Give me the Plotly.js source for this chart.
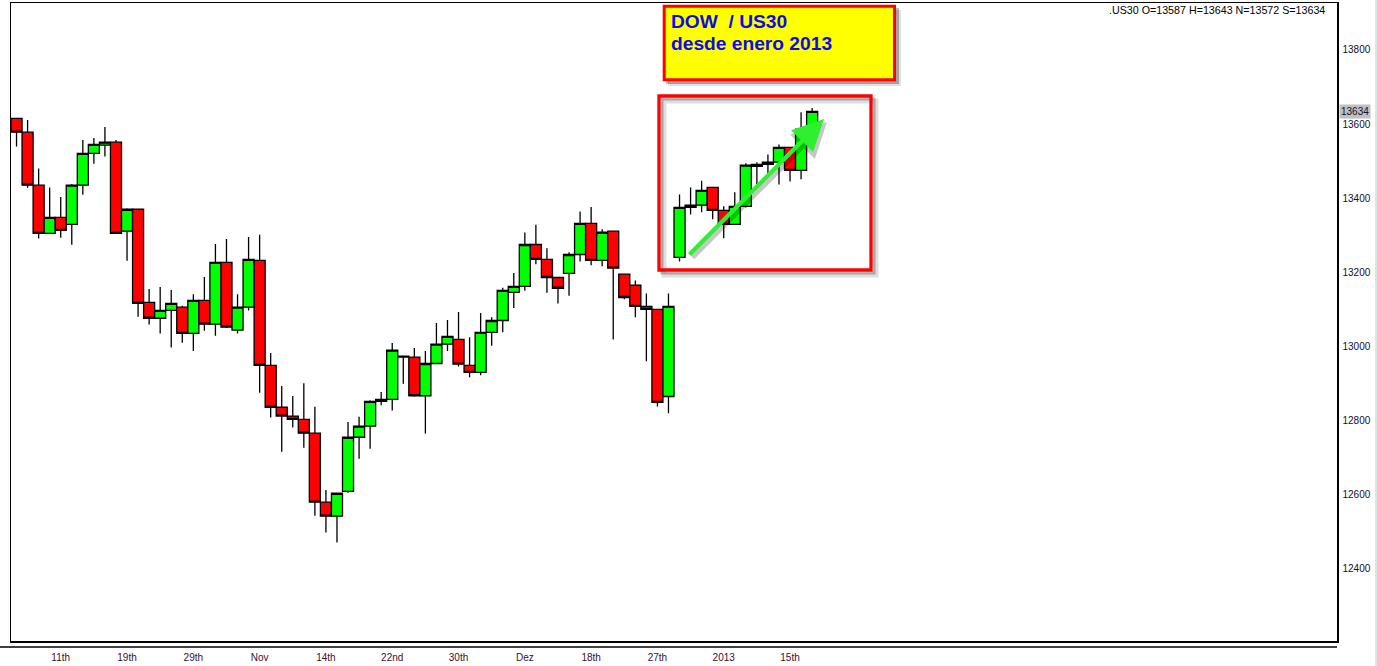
<!DOCTYPE html>
<html>
<head>
<meta charset="utf-8">
<script src="https://cdn.plot.ly/plotly-3.0.1.min.js"></script>
<style>
  html, body { margin: 0; padding: 0; background: #ffffff; }
  #chart { width: 1377px; height: 666px; }
</style>
</head>
<body>
<div id="chart"></div>
<script>
// ---- data (daily bars) ----
const openP  = [13615,13578,13435,13305,13348,13329,13435,13521,13543,13551,13311,13370,13119,13076,13097,13106,13035,13124,13060,13227,13044,13106,13232,12949,12836,12812,12803,12766,12580,12542,12609,12755,12785,12852,12857,12974,12971,12867,12954,13006,13019,12949,12930,13038,13070,13146,13162,13275,13235,13186,13197,13248,13332,13232,13311,13195,13165,13108,13100,12865,13240,13375,13381,13429,13367,13329,13378,13486,13491,13497,13537,13475,13587];
const highP  = [13615,13611,13480,13429,13403,13438,13557,13562,13592,13557,13373,13372,13155,13160,13152,13110,13141,13187,13276,13290,13141,13295,13301,12982,12893,12866,12901,12837,12613,12606,12796,12810,12855,12877,13009,12975,12996,12988,13063,13071,13093,13025,13090,13079,13158,13198,13307,13328,13265,13186,13254,13364,13376,13316,13312,13197,13178,13143,13101,13143,13410,13429,13447,13430,13378,13416,13494,13497,13518,13545,13538,13632,13643];
const lowP   = [13539,13428,13291,13303,13293,13274,13409,13493,13512,13303,13231,13080,13059,13035,12997,13010,12988,13042,13029,13050,13035,13097,12875,12808,12716,12781,12727,12543,12498,12471,12605,12697,12724,12841,12827,12899,12864,12765,12953,12988,12946,12917,12922,13002,13038,13104,13150,13222,13145,13116,13137,13229,13219,13216,13019,13127,13079,12960,12838,12820,13229,13356,13362,13343,13292,13328,13375,13437,13464,13437,13445,13451,13572];
const closeP = [13578,13435,13305,13348,13313,13435,13521,13545,13551,13305,13370,13116,13076,13097,13116,13035,13124,13060,13227,13052,13106,13235,12949,12836,12812,12803,12766,12580,12542,12604,12755,12785,12852,12857,12990,12971,12867,12954,13006,13027,12952,12930,13038,13070,13151,13162,13275,13235,13186,13157,13248,13332,13232,13308,13211,13132,13108,13100,12849,13108,13375,13381,13421,13367,13329,13378,13489,13491,13497,13537,13475,13586,13634];

const tickPos    = [4, 10, 16, 22, 28, 34, 40, 46, 52, 58, 64, 70];
const tickLabels = ['11th','19th','29th','Nov','14th','22nd','30th','Dez','18th','27th','2013','15th'];
const priceTicks = [12400, 12600, 12800, 13000, 13200, 13400, 13600, 13800];

const symbol = '.US30';
const lastO = 13587, lastH = 13643, lastL = 13572, lastC = 13634;

const titleLine1 = 'DOW\u00a0 / US30';
const titleLine2 = 'desde enero 2013';

// ---- geometry helpers (plot area in pixels) ----
const W = 1377, H = 666;
const M = { l: 11, r: 40, t: 3, b: 25 };
const PW = W - M.l - M.r, PH = H - M.t - M.b;
const px = x => (x - M.l) / PW;
const py = y => (H - M.b - y) / PH;

const barIndex = openP.map((_, i) => i);

const trace = {
  type: 'candlestick',
  x: barIndex,
  open: openP, high: highP, low: lowP, close: closeP,
  increasing: { line: { color: '#000000', width: 1.3 }, fillcolor: '#00ff00' },
  decreasing: { line: { color: '#000000', width: 1.3 }, fillcolor: '#ff0000' },
  whiskerwidth: 0,
  showlegend: false,
  hoverinfo: 'skip'
};

const shapes = [
  // second line below plot (time axis panel top)
  { type: 'line', xref: 'paper', yref: 'paper', x0: px(0), x1: px(1337), y0: py(647), y1: py(647),
    line: { color: '#000000', width: 1.5 } },
  // right window edge
  { type: 'line', xref: 'paper', yref: 'paper', x0: px(1376), x1: px(1376), y0: py(0), y1: py(666),
    line: { color: '#dde4ee', width: 2 } },
  // yellow title box shadow
  { type: 'rect', xref: 'paper', yref: 'paper', x0: px(668), x1: px(901), y0: py(10), y1: py(86),
    line: { width: 0 }, fillcolor: 'rgba(0,0,0,0.12)' },
  { type: 'rect', xref: 'paper', yref: 'paper', x0: px(666), x1: px(899), y0: py(8), y1: py(84),
    line: { width: 0 }, fillcolor: 'rgba(0,0,0,0.28)' },
  // yellow title box
  { type: 'rect', xref: 'paper', yref: 'paper', x0: px(664.2), x1: px(894.5), y0: py(6.2), y1: py(79.8),
    line: { color: '#ff0000', width: 3 }, fillcolor: '#ffff00' },
  // red highlight frame shadow
  { type: 'rect', xref: 'paper', yref: 'paper', x0: px(664), x1: px(876), y0: py(101), y1: py(275),
    line: { color: 'rgba(0,0,0,0.13)', width: 5 } },
  { type: 'rect', xref: 'paper', yref: 'paper', x0: px(662), x1: px(874), y0: py(99), y1: py(273),
    line: { color: 'rgba(0,0,0,0.25)', width: 3 } },
  // red highlight frame
  { type: 'rect', xref: 'paper', yref: 'paper', x0: px(659), x1: px(871), y0: py(96), y1: py(270),
    line: { color: '#ff0000', width: 3.3 } }
];

const annotations = [
  // header readout
  { xref: 'paper', yref: 'paper', x: px(1327), y: py(10.5), xanchor: 'right', yanchor: 'middle',
    text: symbol + ' O=' + lastO + ' H=' + lastH + ' N=' + lastL + ' S=' + lastC,
    showarrow: false, font: { size: 10.7, color: '#000000' } },
  // last price marker on the price scale
  { xref: 'paper', yref: 'y', x: px(1339), y: lastC, xanchor: 'left', yanchor: 'middle',
    text: String(lastC), showarrow: false, bgcolor: '#c0c0c0', borderpad: 1,
    font: { size: 10, color: '#101030' } },
  // title texts
  { xref: 'paper', yref: 'paper', x: px(669), y: py(22), xanchor: 'left', yanchor: 'middle',
    text: '<b>' + titleLine1 + '</b>', showarrow: false, font: { size: 19.2, color: '#0a0af0' } },
  { xref: 'paper', yref: 'paper', x: px(669), y: py(44), xanchor: 'left', yanchor: 'middle',
    text: '<b>' + titleLine2 + '</b>', showarrow: false, font: { size: 19.2, color: '#0a0af0' } },
  // arrow shadow
  { xref: 'paper', yref: 'paper', x: px(827), y: py(122), ax: -136, ay: 137, text: '',
    showarrow: true, arrowhead: 2, arrowsize: 1.45, arrowwidth: 4.8, standoff: 0,
    arrowcolor: 'rgba(0,0,0,0.22)' },
  // green trend arrow
  { xref: 'paper', yref: 'paper', x: px(824), y: py(119), ax: -136, ay: 137, text: '',
    showarrow: true, arrowhead: 2, arrowsize: 1.45, arrowwidth: 4.3, standoff: 0,
    arrowcolor: '#2ef02e' }
];

const layout = {
  width: W, height: H,
  margin: M,
  paper_bgcolor: '#ffffff', plot_bgcolor: '#ffffff',
  font: { family: '"Liberation Sans", Arial, sans-serif', size: 10, color: '#000000' },
  showlegend: false,
  boxgap: 0,
  boxgroupgap: 0,
  xaxis: {
    range: [-0.5, 119.5], fixedrange: true,
    rangeslider: { visible: false },
    showgrid: false, zeroline: false,
    showline: true, mirror: true, linecolor: '#000000', linewidth: 1.5,
    tickmode: 'array', tickvals: tickPos, ticktext: tickLabels,
    ticks: '', ticklabelstandoff: 6,
    tickfont: { size: 10, color: '#3a0f30' }
  },
  yaxis: {
    range: [12205.4, 13926.4], fixedrange: true,
    side: 'right',
    showgrid: false, zeroline: false,
    showline: true, mirror: true, linecolor: '#000000', linewidth: 1.5,
    tickmode: 'array', tickvals: priceTicks, tickformat: 'd',
    ticks: '', ticklabelstandoff: 2,
    tickfont: { size: 10, color: '#101030' }
  },
  shapes: shapes,
  annotations: annotations
};

Plotly.newPlot('chart', [trace], layout, { staticPlot: true, displayModeBar: false });
</script>
</body>
</html>
